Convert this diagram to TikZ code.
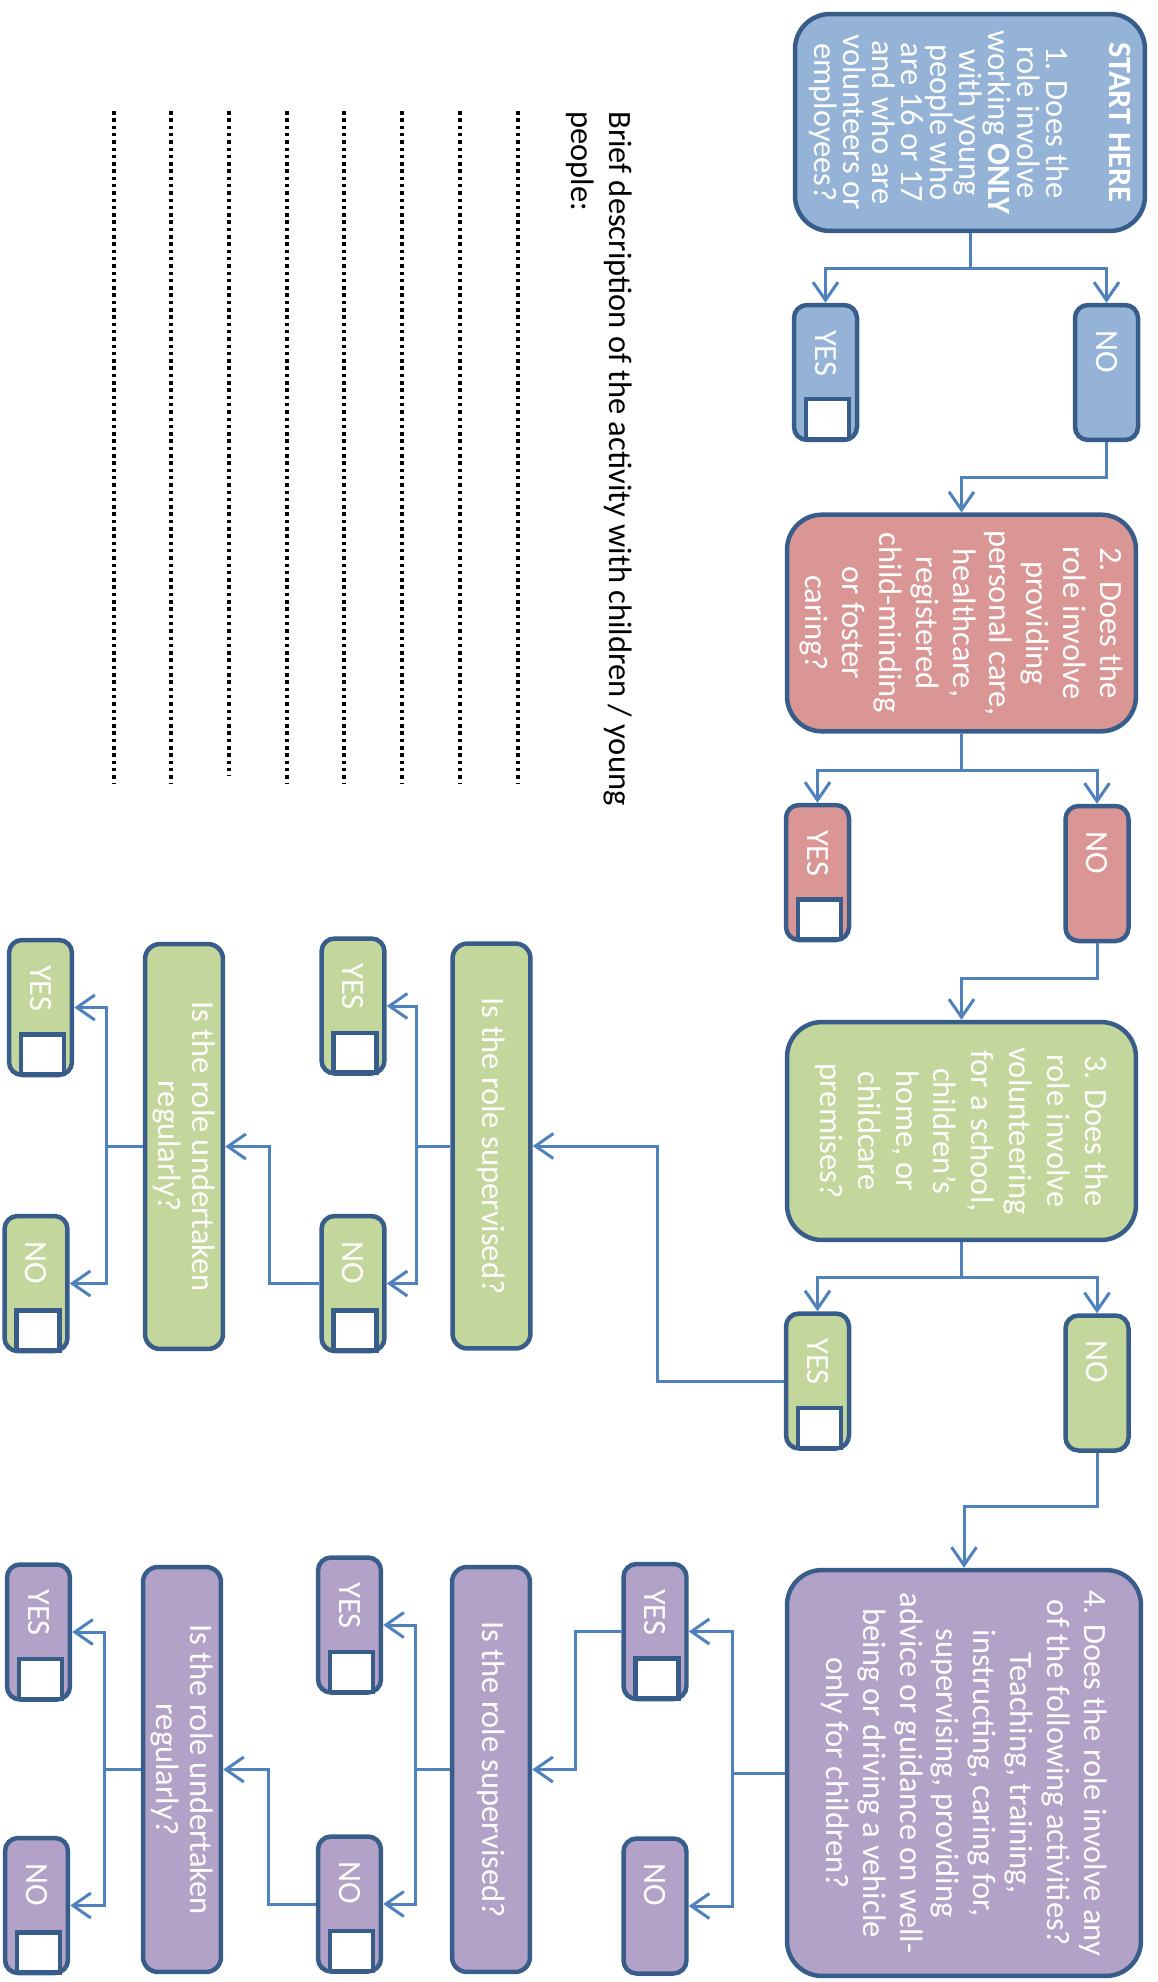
\documentclass[tikz,border=0pt]{standalone}
\usepackage{fontspec}
\setmainfont{Carlito}
\usetikzlibrary{arrows.meta,calc}
\definecolor{bord}{HTML}{385D8A}
\definecolor{connc}{HTML}{4F81BD}
\definecolor{fblue}{HTML}{95B3D7}
\definecolor{fred}{HTML}{D99694}
\definecolor{fgreen}{HTML}{C3D69B}
\definecolor{fpurple}{HTML}{B3A2C7}
\tikzset{
 boxbase/.style={rotate=-90, draw=bord, line width=0.09cm, text=white},
 qbox/.style={boxbase, rounded corners=0.7cm, align=flush center},
 sbox/.style={boxbase, rounded corners=0.3cm, align=center, minimum width=8.1cm, minimum height=1.56cm, inner ysep=1pt, font=\fontsize{18.5}{19.5}\selectfont},
 ansbox/.style={boxbase, rounded corners=0.26cm, minimum width=2.7cm, minimum height=1.26cm, inner xsep=0.5cm, text width=1.7cm, align=flush left, font=\fontsize{18.5}{20}\selectfont},
 chkbox/.style={draw=bord, fill=white, line width=0.09cm, minimum width=0.86cm, minimum height=0.8cm, inner sep=0},
 conn/.style={draw=connc, line width=0.06cm},
 arr/.style={-{Straight Barb[length=0.36cm, width=0.5cm]}},
 dotline/.style={line width=0.08cm, dash pattern=on 0.07cm off 0.076cm},
}
\newcommand\ansnode[5]{\node[ansbox, fill=#5] (#1) at (#2,#3) {#4};}
\newcommand\chkon[1]{\node[chkbox] (#1c) at ($(#1.east)+(2,-23)$) {};}
\begin{document}
\lineskiplimit=-20pt
\begin{tikzpicture}[x=0.02cm,y=-0.02cm]
\useasboundingbox (0,0) rectangle (1158,1982);
% main questions
\node[qbox, fill=fblue, minimum width=4.34cm, minimum height=7.0cm, text width=4.1cm, font=\fontsize{18.5}{16.5}\selectfont] (q1) at (970,122.5)
 {\textbf{START HERE}\\[19pt]1. Does the\\role involve\\working \textbf{ONLY}\\with young\\people who\\are 16 or 17\\and who are\\volunteers or\\employees?};
\node[qbox, fill=fred, minimum width=4.32cm, minimum height=6.98cm, text width=4.1cm, font=\fontsize{18.5}{21}\selectfont] (q2) at (961.5,623)
 {2. Does the\\role involve\\providing\\personal care,\\healthcare,\\registered\\child-minding\\or foster\\caring?};
\node[qbox, fill=fgreen, minimum width=4.36cm, minimum height=6.98cm, text width=4.1cm, font=\fontsize{18.5}{21.5}\selectfont] (q3) at (961.5,1131)
 {3. Does the\\role involve\\volunteering\\for a school,\\children’s\\home, or\\childcare\\premises?};
\node[qbox, fill=fpurple, minimum width=8.12cm, minimum height=7.08cm, text width=7.8cm, font=\fontsize{18.5}{21}\selectfont] (q4) at (964,1773)
 {4. Does the role involve any\\of the following activities?\\Teaching, training,\\instructing, caring for,\\supervising, providing\\advice or guidance on well-\\being or driving a vehicle\\only for children?};
% answers main column
\ansnode{q1yes}{825.5}{372.5}{YES}{fblue}\chkon{q1yes}
\ansnode{q1no}{1106.5}{372.5}{NO}{fblue}
\ansnode{q2yes}{817.5}{872.5}{YES}{fred}\chkon{q2yes}
\ansnode{q2no}{1097}{873.5}{NO}{fred}
\ansnode{q3yes}{817.5}{1381}{YES}{fgreen}\chkon{q3yes}
\ansnode{q3no}{1097}{1383}{NO}{fgreen}
\ansnode{q4yes}{655}{1631.5}{YES}{fpurple}\chkon{q4yes}
\ansnode{q4no}{655}{1906}{NO}{fpurple}
% green sub-questions
\node[sbox, fill=fgreen] (gsup) at (491.5,1146) {Is the role supervised?};
\node[sbox, fill=fgreen] (greg) at (184,1146.5) {Is the role undertaken\\regularly?};
\ansnode{gsupyes}{353}{1006}{YES}{fgreen}\chkon{gsupyes}
\ansnode{gsupno}{353}{1283.5}{NO}{fgreen}\chkon{gsupno}
\ansnode{gregyes}{40.5}{1007.5}{YES}{fgreen}\chkon{gregyes}
\ansnode{gregno}{36}{1283.5}{NO}{fgreen}\chkon{gregno}
% purple sub-questions
\node[sbox, fill=fpurple] (psup) at (491,1769.5) {Is the role supervised?};
\node[sbox, fill=fpurple] (preg) at (182,1769.5) {Is the role undertaken\\regularly?};
\ansnode{psupyes}{349.5}{1625}{YES}{fpurple}\chkon{psupyes}
\ansnode{psupno}{349.5}{1904}{NO}{fpurple}\chkon{psupno}
\ansnode{pregyes}{38.5}{1632}{YES}{fpurple}\chkon{pregyes}
\ansnode{pregno}{36.5}{1905.5}{NO}{fpurple}\chkon{pregno}
% connectors main column
\draw[conn] (q1.east) -- ++(0,35) coordinate (j1);
\draw[conn,arr] (j1) -| (q1yes.west);
\draw[conn,arr] (j1) -| (q1no.west);
\draw[conn,arr] (q1no.east) -- ++(0,35) -| (q2.west);
\draw[conn] (q2.east) -- ++(0,37) coordinate (j2);
\draw[conn,arr] (j2) -| (q2yes.west);
\draw[conn,arr] (j2) -| (q2no.west);
\draw[conn,arr] (q2no.east) -- ++(0,35) -| (q3.west);
\draw[conn] (q3.east) -- ++(0,35) coordinate (j3);
\draw[conn,arr] (j3) -| (q3yes.west);
\draw[conn,arr] (j3) -| (q3no.west);
\draw[conn,arr] (q3no.east) -- ++(0,54) -| (q4.west);
% green flow
\draw[conn,arr] (q3yes.south) -- ++(-126,0) |- (gsup.north);
\draw[conn] (gsup.south) -- ++(-34,0) coordinate (g1);
\draw[conn,arr] (g1) |- (gsupyes.north);
\draw[conn,arr] (g1) |- (gsupno.north);
\draw[conn,arr] (gsupno.south) -- ++(-50,0) |- (greg.north);
\draw[conn] (greg.south) -- ++(-36,0) coordinate (g2);
\draw[conn,arr] (g2) |- (gregyes.north);
\draw[conn,arr] (g2) |- (gregno.north);
% purple flow
\draw[conn] (q4.south) -- ++(-52,0) coordinate (p0);
\draw[conn,arr] (p0) |- (q4yes.north);
\draw[conn,arr] (p0) |- (q4no.north);
\draw[conn,arr] (q4yes.south) -- ++(-46,0) |- (psup.north);
\draw[conn] (psup.south) -- ++(-34,0) coordinate (p1);
\draw[conn,arr] (p1) |- (psupyes.north);
\draw[conn,arr] (p1) |- (psupno.north);
\draw[conn,arr] (psupno.south) -- ++(-47,0) |- (preg.north);
\draw[conn] (preg.south) -- ++(-36,0) coordinate (p2);
\draw[conn,arr] (p2) |- (pregyes.north);
\draw[conn,arr] (p2) |- (pregno.north);
% description
\node[rotate=-90, anchor=north west, inner sep=0, align=left, font=\fontsize{18.5}{21.5}\selectfont] (desc) at (632,111)
 {Brief description of the activity with children / young\\people:};
\foreach \xx/\yy in {518/784,460/784,402/784,344/784,287/784,229/776,171/784,114/784}
 \draw[dotline] (\xx,111) -- (\xx,\yy);
\end{tikzpicture}
\end{document}
